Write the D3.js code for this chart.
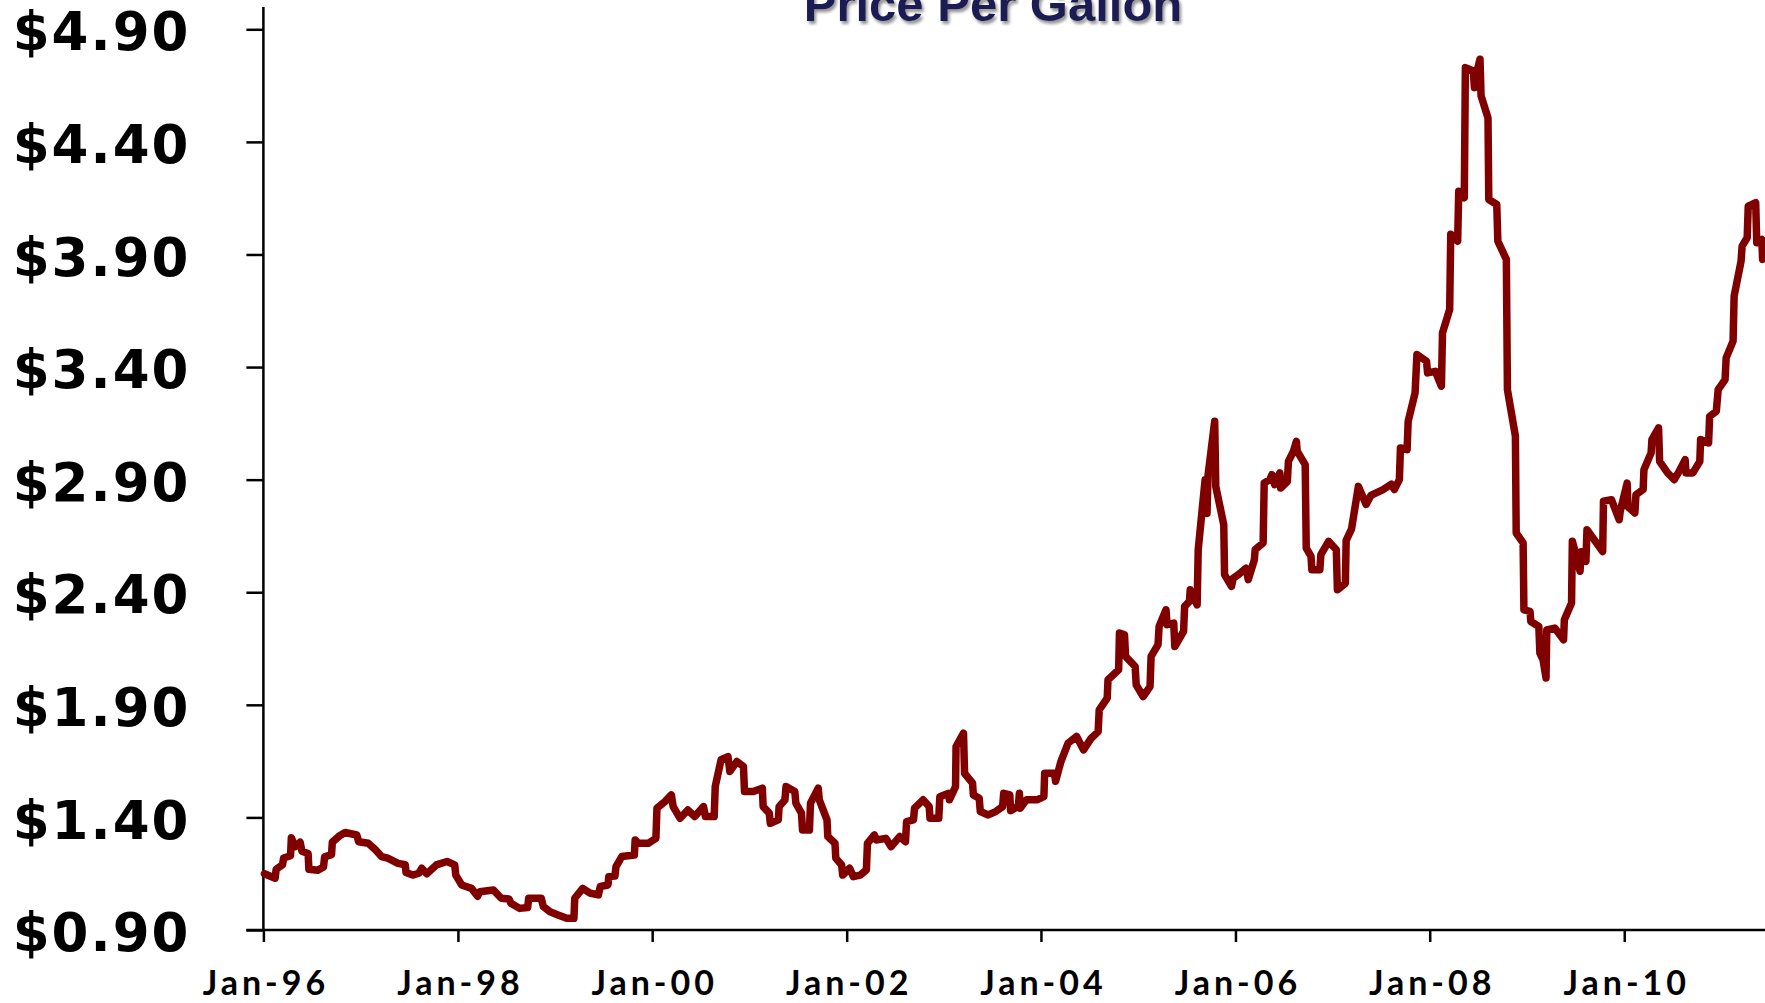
<!DOCTYPE html>
<html>
<head>
<meta charset="utf-8">
<script src="https://cdn.jsdelivr.net/npm/d3@7"></script>
<style>
  body { margin: 0; background: #ffffff; overflow: hidden; }
</style>
</head>
<body>
<div id="chart"></div>
<script>
// Weekly retail price (one line per year)
const dates = [
  "1996-01-05","1996-02-14","1996-02-18","1996-03-13","1996-03-17","1996-04-12","1996-04-15","1996-04-29","1996-05-18","1996-05-25","1996-06-17","1996-06-20","1996-07-23","1996-08-14","1996-08-18","1996-09-13","1996-09-16","1996-10-15","1996-11-03","1996-12-17","1996-12-24",
  "1997-01-29","1997-02-25","1997-03-20","1997-04-12","1997-05-21","1997-06-17","1997-06-20","1997-07-15","1997-08-07","1997-08-18","1997-09-06","1997-10-12","1997-11-21","1997-12-20","1997-12-24",
  "1998-01-15","1998-02-21","1998-03-16","1998-03-24","1998-05-14","1998-06-13","1998-07-12","1998-07-19","1998-08-21","1998-09-20","1998-09-24","1998-11-10","1998-11-18","1998-12-13",
  "1999-01-12","1999-02-14","1999-03-13","1999-03-16","1999-04-15","1999-05-14","1999-06-13","1999-06-20","1999-07-19","1999-07-22","1999-08-14","1999-08-18","1999-09-09","1999-10-26","1999-10-29","1999-11-10","1999-12-17",
  "2000-01-15","2000-01-19","2000-02-18","2000-03-13","2000-03-20","2000-04-15","2000-05-14","2000-06-09","2000-07-12","2000-07-19","2000-08-21","2000-08-25","2000-09-16","2000-10-12","2000-10-19","2000-11-14","2000-12-09","2000-12-13",
  "2001-01-15","2001-02-18","2001-02-21","2001-03-16","2001-03-20","2001-04-19","2001-04-22","2001-05-14","2001-05-18","2001-06-20","2001-06-24","2001-07-15","2001-07-19","2001-08-14","2001-08-18","2001-09-16","2001-09-20","2001-10-19","2001-10-22","2001-11-18","2001-11-21","2001-12-13","2001-12-17",
  "2002-01-12","2002-01-26","2002-02-21","2002-03-16","2002-03-20","2002-04-15","2002-04-22","2002-05-28","2002-06-17","2002-07-19","2002-08-10","2002-08-14","2002-09-09","2002-09-13","2002-10-15","2002-11-07","2002-11-10","2002-12-13","2002-12-17",
  "2003-01-19","2003-01-22","2003-02-14","2003-02-16","2003-03-16","2003-03-20","2003-04-19","2003-04-22","2003-05-14","2003-05-18","2003-06-17","2003-07-15","2003-08-10","2003-08-14","2003-09-06","2003-09-09","2003-10-08","2003-10-12","2003-10-15","2003-11-07","2003-12-17",
  "2004-01-12","2004-01-15","2004-02-21","2004-02-25","2004-03-16","2004-04-12","2004-05-14","2004-06-09","2004-07-08","2004-08-03","2004-08-07","2004-09-06","2004-09-09","2004-10-19","2004-10-22","2004-11-10","2004-11-14","2004-12-20","2004-12-24",
  "2005-01-19","2005-02-14","2005-02-18","2005-03-16","2005-03-20","2005-04-15","2005-04-19","2005-05-14","2005-05-18","2005-06-20","2005-06-24","2005-07-12","2005-07-15","2005-08-10","2005-08-14","2005-09-09","2005-09-16","2005-09-20","2005-10-15","2005-10-19","2005-11-18","2005-11-21","2005-12-17","2005-12-24",
  "2006-01-12","2006-02-10","2006-02-18","2006-03-13","2006-03-16","2006-04-15","2006-04-19","2006-05-10","2006-05-18","2006-05-28","2006-06-17","2006-06-20","2006-07-15","2006-07-19","2006-08-07","2006-08-18","2006-08-21","2006-09-20","2006-09-24","2006-10-12","2006-10-15","2006-11-14","2006-11-18","2006-12-17",
  "2007-01-15","2007-01-19","2007-02-18","2007-02-21","2007-03-13","2007-04-08","2007-05-07","2007-05-25","2007-07-08","2007-08-10","2007-08-21","2007-09-09","2007-09-13","2007-10-08","2007-10-12","2007-11-07","2007-11-14","2007-12-20","2007-12-24",
  "2008-01-22","2008-02-14","2008-02-18","2008-03-16","2008-03-20","2008-04-15","2008-04-19","2008-05-10","2008-05-14","2008-06-13","2008-06-17","2008-06-27","2008-07-08","2008-07-12","2008-08-07","2008-08-10","2008-09-09","2008-09-13","2008-10-15","2008-10-19","2008-11-18","2008-11-21","2008-12-17","2008-12-20",
  "2009-01-12","2009-01-15","2009-02-14","2009-02-18","2009-03-02","2009-03-13","2009-03-16","2009-04-15","2009-05-18","2009-05-21","2009-06-17","2009-06-20","2009-07-12","2009-07-19","2009-07-23","2009-08-10","2009-08-14","2009-10-12","2009-10-15","2009-11-14","2009-12-13","2009-12-17",
  "2010-01-12","2010-01-15","2010-02-10","2010-02-14","2010-03-13","2010-03-16","2010-04-12","2010-04-15","2010-05-10","2010-05-14","2010-06-13","2010-07-08","2010-07-23","2010-08-18","2010-08-21","2010-09-16","2010-10-12","2010-10-15","2010-11-14","2010-11-18","2010-12-13","2010-12-20",
  "2011-01-15","2011-01-19","2011-02-14","2011-02-18","2011-03-16","2011-03-20","2011-04-08","2011-04-12","2011-05-10","2011-05-14","2011-06-02","2011-06-05","2011-06-13"
];

const prices = [
  1.15,1.13,1.17,1.19,1.22,1.23,1.31,1.27,1.29,1.25,1.24,1.17,1.165,1.18,1.225,1.235,1.29,1.32,1.333,1.322,1.292,
  1.285,1.256,1.226,1.219,1.196,1.19,1.155,1.144,1.152,1.174,1.15,1.189,1.204,1.189,1.144,
  1.10,1.085,1.05,1.07,1.078,1.041,1.038,1.019,0.996,1.00,1.041,1.041,1.004,0.981,
  0.967,0.952,0.952,1.041,1.085,1.063,1.056,1.093,1.10,1.137,1.14,1.181,1.226,1.233,1.30,1.285,1.285,
  1.307,1.441,1.47,1.50,1.448,1.396,1.433,1.404,1.448,1.404,1.404,1.537,1.656,1.67,1.604,1.648,1.626,1.515,
  1.515,1.53,1.448,1.419,1.374,1.389,1.448,1.478,1.537,1.515,1.463,1.419,1.344,1.344,1.463,1.53,1.478,1.389,1.315,1.285,1.219,1.189,1.144,
  1.174,1.137,1.144,1.167,1.285,1.322,1.30,1.307,1.27,1.315,1.292,1.381,1.389,1.441,1.478,1.448,1.396,1.396,1.492,
  1.507,1.478,1.537,1.715,1.774,1.596,1.552,1.50,1.485,1.426,1.411,1.426,1.448,1.507,1.50,1.43,1.45,1.507,1.441,1.478,1.478,
  1.492,1.596,1.596,1.56,1.648,1.73,1.759,1.70,1.752,1.781,1.878,1.93,2.011,2.056,2.219,2.211,2.115,2.07,1.989,
  1.937,1.981,2.115,2.167,2.248,2.322,2.256,2.263,2.159,2.226,2.337,2.359,2.411,2.344,2.589,2.90,2.75,2.92,3.159,2.87,2.70,2.478,2.426,2.463,
  2.478,2.507,2.456,2.544,2.589,2.619,2.885,2.90,2.922,2.878,2.93,2.863,2.892,2.981,3.026,3.07,3.026,2.967,2.596,2.559,2.50,2.50,2.567,2.626,
  2.589,2.411,2.44,2.63,2.68,2.87,2.79,2.83,2.855,2.88,2.856,2.90,3.041,3.033,3.159,3.285,3.456,3.426,3.374,
  3.381,3.315,3.552,3.656,3.99,3.959,4.181,4.152,4.73,4.715,4.641,4.715,4.767,4.604,4.507,4.144,4.122,3.959,3.878,3.30,3.093,2.663,2.619,2.322,
  2.315,2.27,2.248,2.13,2.10,2.019,2.233,2.241,2.189,2.278,2.352,2.626,2.53,2.493,2.58,2.537,2.678,2.581,2.804,2.811,2.722,2.76,
  2.885,2.78,2.752,2.833,2.856,2.944,3.019,3.078,3.13,2.981,2.93,2.90,2.93,2.989,2.93,2.93,2.981,3.078,3.063,3.181,3.204,3.30,
  3.344,3.441,3.515,3.715,3.87,3.937,3.974,4.115,4.13,3.952,3.967,3.878,3.89
];

const priceTicks = [0.9, 1.4, 1.9, 2.4, 2.9, 3.4, 3.9, 4.4, 4.9];
const dateTicks = ["1996-01-01","1998-01-01","2000-01-01","2002-01-01","2004-01-01","2006-01-01","2008-01-01","2010-01-01"];
const chartTitle = "Price Per Gallon";

const parseDate = d3.timeParse("%Y-%m-%d");
const data = dates.map((d, i) => ({ date: parseDate(d), price: prices[i] }));

const W = 1765, H = 1003;
const plot = { left: 263.4, right: 1765, top: 29.3, bottom: 930 };

const svg = d3.select("#chart")
    .append("svg")
    .attr("width", W)
    .attr("height", H);

// soft grey shadow behind the title
const defs = svg.append("defs");
defs.append("filter")
    .attr("id", "shadow")
    .attr("x", "-10%").attr("y", "-50%")
    .attr("width", "120%").attr("height", "200%")
    .append("feDropShadow")
    .attr("dx", 2).attr("dy", 3)
    .attr("stdDeviation", 1.5)
    .attr("flood-color", "#7a7a7a")
    .attr("flood-opacity", 0.8);

const x = d3.scaleTime()
    .domain([parseDate("1996-01-01"), parseDate("2011-06-14")])
    .range([plot.left, plot.right]);

const y = d3.scaleLinear()
    .domain([0.9, 4.9])
    .range([plot.bottom, plot.top]);

// Y axis
const yAxis = svg.append("g")
    .attr("transform", `translate(${plot.left},0)`)
    .call(d3.axisLeft(y)
        .tickValues(priceTicks)
        .tickFormat(d => "$" + d.toFixed(2))
        .tickSize(17)
        .tickSizeOuter(0)
        .tickPadding(56));
yAxis.select(".domain").remove();
yAxis.selectAll(".tick line").attr("stroke", "#000").attr("stroke-width", 2.5);
yAxis.selectAll(".tick text")
    .attr("dy", "0.39em")
    .style("font-family", "'DejaVu Sans', Verdana, sans-serif")
    .style("font-weight", "bold")
    .style("font-size", "53px")
    .style("letter-spacing", "2px")
    .style("fill", "#000");

svg.append("line")
    .attr("x1", plot.left).attr("x2", plot.left)
    .attr("y1", 7).attr("y2", plot.bottom)
    .attr("stroke", "#000").attr("stroke-width", 2.5);

// X axis
const xAxis = svg.append("g")
    .attr("transform", `translate(0,${plot.bottom})`)
    .call(d3.axisBottom(x)
        .tickValues(dateTicks.map(parseDate))
        .tickFormat(d3.timeFormat("%b-%y"))
        .tickSize(12)
        .tickSizeOuter(0));
xAxis.select(".domain").remove();
xAxis.selectAll(".tick line").attr("stroke", "#000").attr("stroke-width", 2.5);
xAxis.selectAll(".tick text")
    .attr("y", 65)
    .attr("dy", 0)
    .attr("dx", 2)
    .style("font-family", "Lato, 'Open Sans', sans-serif")
    .style("font-weight", "bold")
    .style("font-size", "34px")
    .style("letter-spacing", "4px")
    .style("fill", "#000");

svg.append("line")
    .attr("x1", plot.left - 17).attr("x2", plot.right)
    .attr("y1", plot.bottom).attr("y2", plot.bottom)
    .attr("stroke", "#000").attr("stroke-width", 2.5);

// Price line
const line = d3.line()
    .x(d => x(d.date))
    .y(d => y(d.price));

svg.append("path")
    .datum(data)
    .attr("d", line)
    .attr("fill", "none")
    .attr("stroke", "#800000")
    .attr("stroke-width", 7.5)
    .attr("stroke-linejoin", "round")
    .attr("stroke-linecap", "round");

// Title (cut off by the top edge, as in the source)
svg.append("text")
    .attr("x", 993)
    .attr("y", 21)
    .attr("text-anchor", "middle")
    .attr("filter", "url(#shadow)")
    .style("font-family", "'Liberation Sans', Arial, sans-serif")
    .style("font-weight", "bold")
    .style("font-size", "49px")
    .style("fill", "#1c1c54")
    .text(chartTitle);
</script>
</body>
</html>
